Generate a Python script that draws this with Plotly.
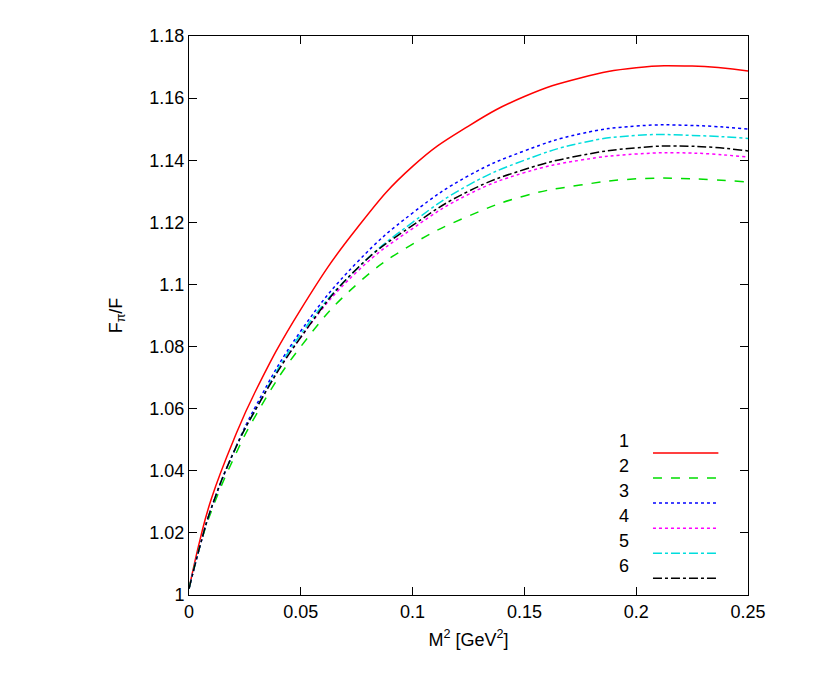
import plotly.graph_objects as go

x = [0, 0.005, 0.01, 0.02, 0.03, 0.05, 0.075, 0.1, 0.125, 0.15, 0.175, 0.2, 0.225, 0.25]
y1 = [1.002, 1.018, 1.031, 1.050, 1.066, 1.092, 1.118, 1.138, 1.151, 1.1605, 1.1665, 1.1698, 1.1703, 1.1687]
y2 = [1.002, 1.016, 1.027, 1.044, 1.058, 1.080, 1.100, 1.113, 1.122, 1.1285, 1.132, 1.134, 1.134, 1.133]
y3 = [1.002, 1.016, 1.028, 1.046, 1.061, 1.085, 1.107, 1.123, 1.135, 1.143, 1.1485, 1.151, 1.1512, 1.150]
y4 = [1.002, 1.016, 1.028, 1.046, 1.060, 1.083, 1.104, 1.118, 1.129, 1.136, 1.140, 1.142, 1.1423, 1.141]
y5 = [1.002, 1.016, 1.028, 1.046, 1.060, 1.084, 1.105, 1.120, 1.132, 1.140, 1.1455, 1.148, 1.148, 1.147]
y6 = [1.002, 1.016, 1.028, 1.046, 1.060, 1.083, 1.105, 1.119, 1.130, 1.137, 1.1415, 1.144, 1.1445, 1.143]
labels = ["1", "2", "3", "4", "5", "6"]
colors = ["#ff0000", "#00dd00", "#0000ff", "#ff00ff", "#00dddd", "#000000"]
dashes = ["solid", "dash", "dot", "dot", "dashdot", "dashdot"]
series = [y1, y2, y3, y4, y5, y6]

fig = go.Figure()
for lab, ys, c, d in zip(labels, series, colors, dashes):
    fig.add_trace(go.Scatter(x=x, y=ys, mode="lines", name=lab,
                             line=dict(color=c, dash=d, width=1.5, shape="spline", smoothing=1.3)))

# manual gnuplot-style legend (text left, sample right)
for i, (lab, c, d) in enumerate(zip(labels, colors, dashes)):
    yp = 0.254 - i * 0.0448
    fig.add_annotation(x=0.79, y=yp, xref="paper", yref="paper", text=lab, showarrow=False,
                       xanchor="right", font=dict(size=18, color="black"))
    fig.add_shape(type="line", xref="paper", yref="paper", x0=0.83, x1=0.947, y0=yp, y1=yp,
                  line=dict(color=c, dash=d, width=1.5))

ax = dict(showgrid=False, zeroline=False, showline=True, mirror="allticks", linecolor="black",
          ticks="inside", ticklen=8, tickcolor="black", tickfont=dict(size=18, color="black"),
          automargin=False)
fig.update_layout(
    width=830, height=691, plot_bgcolor="white", paper_bgcolor="white", showlegend=False,
    margin=dict(l=181, r=90, t=28, b=104),
    font=dict(family="Liberation Sans, Arial", color="black"),
    xaxis=dict(range=[0, 0.25], tickvals=[0, 0.05, 0.1, 0.15, 0.2, 0.25],
               ticktext=["0", "0.05", "0.1", "0.15", "0.2", "0.25"],
               title=dict(text="M<sup>2</sup> [GeV<sup>2</sup>]", font=dict(size=18), standoff=12), **ax),
    yaxis=dict(range=[1, 1.18], tickvals=[1, 1.02, 1.04, 1.06, 1.08, 1.1, 1.12, 1.14, 1.16, 1.18],
               ticktext=["1", "1.02", "1.04", "1.06", "1.08", "1.1", "1.12", "1.14", "1.16", "1.18"],
               title=dict(text="F<sub>π</sub>/F", font=dict(size=18), standoff=22), **ax),
)
fig.write_html("out.html")
